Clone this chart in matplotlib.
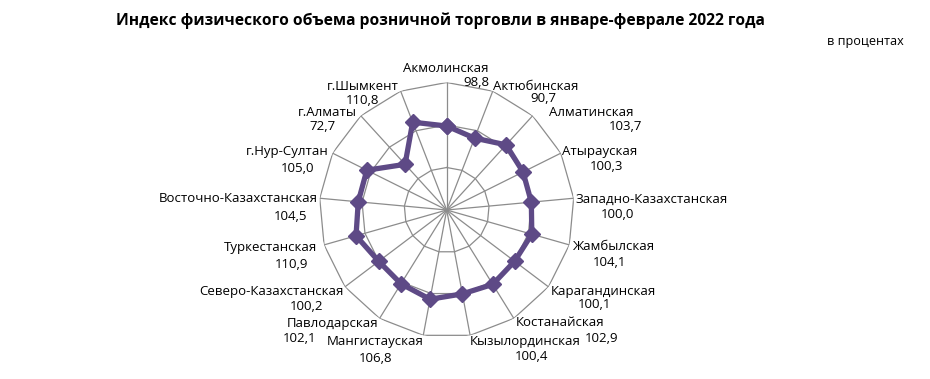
import numpy as np
import matplotlib
matplotlib.use("Agg")
import matplotlib.pyplot as plt
from matplotlib.font_manager import FontProperties
from matplotlib.textpath import TextPath

# ---- data ----
categories = ["Акмолинская", "Актюбинская", "Алматинская", "Атырауская",
              "Западно-Казахстанская", "Жамбылская", "Карагандинская",
              "Костанайская", "Кызылординская", "Мангистауская", "Павлодарская",
              "Северо-Казахстанская", "Туркестанская", "Восточно-Казахстанская",
              "г.Нур-Султан", "г.Алматы", "г.Шымкент"]
values = [98.8, 90.7, 103.7, 100.3, 100.0, 104.1, 100.1, 102.9, 100.4,
          106.8, 102.1, 100.2, 110.9, 104.5, 105.0, 72.7, 110.8]
value_labels = ["98,8", "90,7", "103,7", "100,3", "100,0", "104,1", "100,1",
                "102,9", "100,4", "106,8", "102,1", "100,2", "110,9", "104,5",
                "105,0", "72,7", "110,8"]
ring_values = [50, 100, 150]
title = "Индекс физического объема розничной торговли в январе-феврале 2022 года"
unit_note = "в процентах"

# ---- layout (pixels) ----
W, H = 930, 379
DPI = 100
cx, cy, R = 446.7, 210.0, 127.5
name_pos = [(446, 68.5), (536, 87), (591, 112), (600, 152), (652, 199),
            (613, 247), (603, 291), (560, 323), (525, 342), (375, 341),
            (333, 323), (271, 291), (270, 247), (238, 199), (287, 152),
            (327, 113), (363, 87)]
val_pos = [(476, 83), (543, 99), (626, 127), (606, 167), (617, 215),
           (609, 263), (594, 305), (602, 339), (531, 356), (376, 358),
           (300, 339), (307, 307), (292, 264), (291, 216), (298, 168),
           (323, 127), (362, 100)]

LINE_COLOR = "#5E4A86"
GRID_COLOR = "#8C8C8C"
TEXT_COLOR = "#000000"

fam = ["Open Sans", "DejaVu Sans"]


def width_px(s, size, weight="normal"):
    fp = FontProperties(family=fam, size=size, weight=weight)
    tp = TextPath((0, 0), s, prop=fp)
    bb = tp.get_extents()
    return bb.width * DPI / 72.0


# scale fonts to match reference text widths
lab_size = 10 * 84.0 / width_px("Акмолинская", 10)
title_size = 12 * 646.0 / width_px(title, 12, "bold")
note_size = 8 * 75.0 / width_px(unit_note, 8)

fig = plt.figure(figsize=(W / DPI, H / DPI), dpi=DPI)
fig.patch.set_facecolor("white")

ax = fig.add_axes([(cx - R) / W, 1 - (cy + R) / H, 2 * R / W, 2 * R / H],
                  projection="polar")
ax.set_theta_offset(np.pi / 2)
ax.set_theta_direction(-1)
ax.set_ylim(0, 150)
ax.grid(False)
ax.spines["polar"].set_visible(False)
ax.set_xticks([])
ax.set_yticks([])
ax.patch.set_alpha(0)

n = len(categories)
theta = np.arange(n) * 2 * np.pi / n
theta_c = np.append(theta, theta[0])

for rv in ring_values:
    ax.plot(theta_c, [rv] * (n + 1), color=GRID_COLOR, lw=0.9, zorder=1)
for t in theta:
    ax.plot([t, t], [0, ring_values[-1]], color=GRID_COLOR, lw=0.9, zorder=1)

vals_c = np.append(values, values[0])
ax.plot(theta_c, vals_c, color=LINE_COLOR, lw=3.8, zorder=3,
        marker="D", markersize=8.5, markerfacecolor=LINE_COLOR,
        markeredgecolor=LINE_COLOR, clip_on=False)

for name, (nx, ny), vl, (vx, vy) in zip(categories, name_pos, value_labels, val_pos):
    fig.text(nx / W, 1 - ny / H, name, ha="center", va="center",
             fontsize=lab_size, family=fam, color=TEXT_COLOR)
    fig.text(vx / W, 1 - vy / H, vl, ha="center", va="center",
             fontsize=lab_size, family=fam, color=TEXT_COLOR)

fig.text(440 / W, 1 - 21 / H, title, ha="center", va="center",
         fontsize=title_size, family=fam, weight="bold", color=TEXT_COLOR)
fig.text(865 / W, 1 - 42 / H, unit_note, ha="center", va="center",
         fontsize=note_size, family=fam, color=TEXT_COLOR)

fig.savefig("out.png", dpi=DPI, facecolor="white")
